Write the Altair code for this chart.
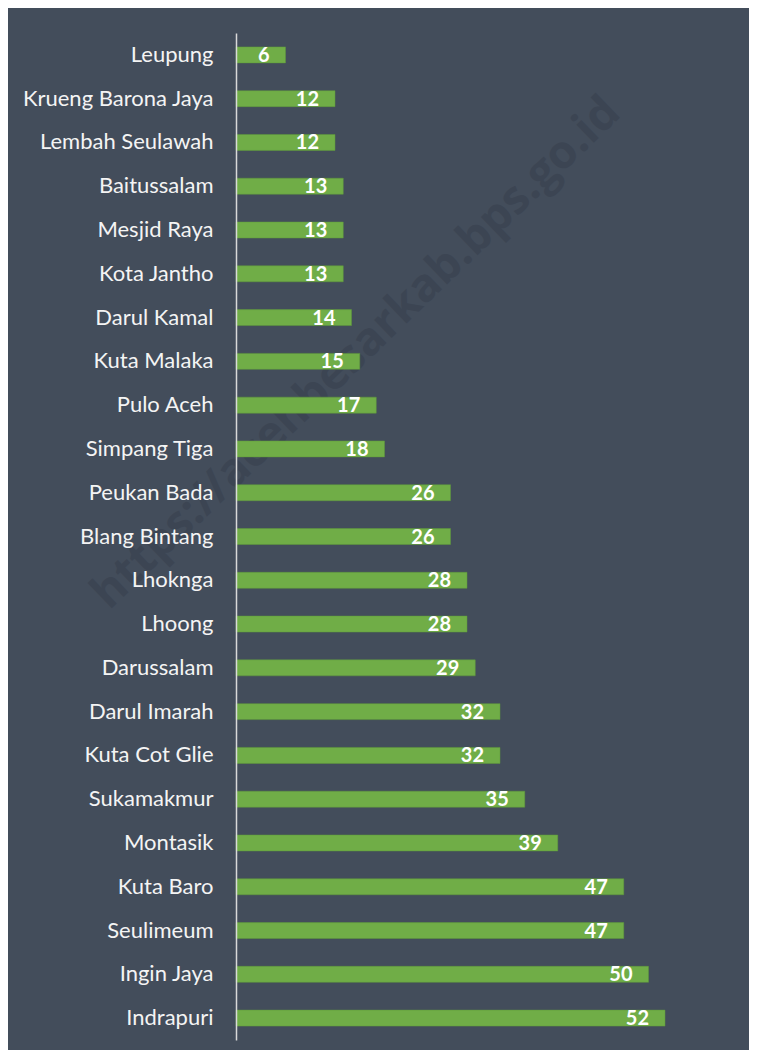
import altair as alt
import pandas as pd

kecamatan = [
    "Leupung", "Krueng Barona Jaya", "Lembah Seulawah", "Baitussalam",
    "Mesjid Raya", "Kota Jantho", "Darul Kamal", "Kuta Malaka", "Pulo Aceh",
    "Simpang Tiga", "Peukan Bada", "Blang Bintang", "Lhoknga", "Lhoong",
    "Darussalam", "Darul Imarah", "Kuta Cot Glie", "Sukamakmur", "Montasik",
    "Kuta Baro", "Seulimeum", "Ingin Jaya", "Indrapuri",
]
nilai = [6, 12, 12, 13, 13, 13, 14, 15, 17, 18, 26, 26, 28, 28, 29, 32, 32,
         35, 39, 47, 47, 50, 52]
watermark = ["https://acehbesarkab.bps.go.id"]

df = pd.DataFrame({"kecamatan": kecamatan, "nilai": nilai})
wm = pd.DataFrame({"t": watermark})

BG = "#434D5B"
GREEN = "#70AD47"

y_enc = alt.Y(
    "kecamatan:N",
    sort=kecamatan,
    scale=alt.Scale(paddingInner=0.635, paddingOuter=0.3175),
    axis=alt.Axis(
        title=None,
        ticks=False,
        domain=True,
        domainColor="#D9D9D9",
        domainWidth=1.5,
        labelColor="#F4F4F4",
        labelFont="Lato",
        labelFontSize=22,
        labelPadding=23,
        labelLimit=400,
        zindex=1,
    ),
)
x_enc = alt.X("nilai:Q", scale=alt.Scale(domain=[0, 60]), axis=None)

wm_layer = alt.Chart(wm).mark_text(
    font="Open Sans",
    fontWeight="bold",
    fontSize=46,
    color="#3C4553",
    angle=316,
    align="center",
    baseline="middle",
).encode(text="t:N", x=alt.value(120), y=alt.value(320))

bars = alt.Chart(df).mark_bar(color=GREEN, stroke="#5E9A3A", strokeWidth=0.5).encode(
    y=y_enc, x=x_enc
)

labels = alt.Chart(df).mark_text(
    align="right",
    baseline="middle",
    dx=-16,
    dy=1,
    font="Lato",
    fontWeight="bold",
    fontSize=20,
    color="#FFFFFF",
).encode(y=alt.Y("kecamatan:N", sort=kecamatan), x="nilai:Q", text="nilai:Q")

chart = (
    alt.layer(wm_layer, bars, labels)
    .properties(
        width=495,
        height=1007,
        background=BG,
        padding={"left": 228, "top": 25, "right": 18, "bottom": 10},
        autosize=alt.AutoSizeParams(type="none"),
    )
    .configure_view(stroke=None)
)

chart.save("out.html", embed_options={"renderer": "svg", "actions": False})
